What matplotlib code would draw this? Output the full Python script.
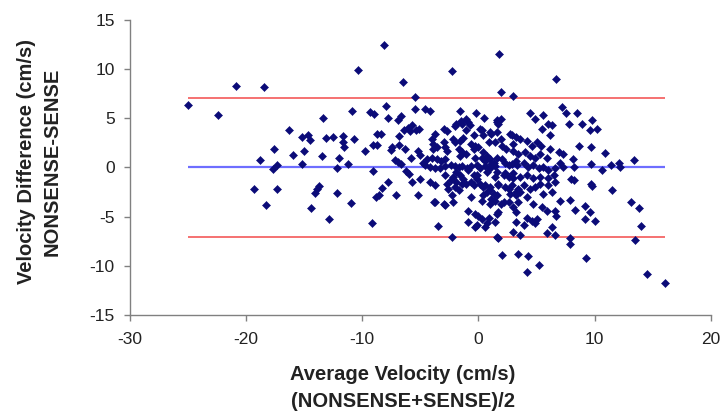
import numpy as np
import matplotlib
matplotlib.use('Agg')
import matplotlib.pyplot as plt

plt.rcParams['font.family'] = ['Liberation Sans', 'DejaVu Sans']
plt.rcParams['axes.unicode_minus'] = False

# (average velocity, difference) pairs, grouped by region
left_pts = [
    (-20.9, 8.3), (-18.5, 8.2), (-25.0, 6.4), (-22.4, 5.3), (-13.4, 5.0), (-16.3, 3.8),
    (-15.2, 3.1), (-14.7, 3.3), (-14.5, 2.8), (-13.1, 3.0), (-12.5, 3.1), (-17.6, 1.9),
    (-16.0, 1.3), (-15.0, 1.7), (-13.5, 1.2), (-18.8, 0.8), (-15.2, 0.4), (-17.7, -0.2),
    (-17.3, 0.2), (-12.2, -0.1), (-19.3, -2.2), (-17.3, -2.2), (-14.1, -2.6), (-13.9, -2.2),
    (-13.7, -1.9), (-12.2, -2.6), (-18.3, -3.8), (-14.4, -4.1), (-12.9, -5.2),
]
midleft_pts = [
    (-10.4, 9.9), (-8.1, 12.5), (-2.3, 9.8), (-6.5, 8.7), (-5.5, 7.2), (-10.9, 5.7),
    (-9.3, 5.6), (-9.0, 5.4), (-8.0, 6.3), (-7.8, 5.0), (-6.9, 4.8), (-6.7, 5.2),
    (-5.5, 5.9), (-4.6, 5.9), (-4.2, 5.7), (-1.6, 5.7), (-0.2, 5.5),
    (-11.7, 3.2), (-11.7, 2.6), (-11.6, 2.1), (-10.7, 2.9), (-9.8, 1.7), (-12.0, 1.0),
    (-11.2, 0.3), (-9.1, 2.3), (-8.7, 2.3), (-8.7, 3.4), (-8.4, 3.4), (-7.5, 1.8),
    (-7.4, 2.1), (-6.8, 2.3), (-6.3, 1.9), (-6.4, 3.8), (-6.1, 4.0), (-5.9, 3.7),
    (-5.7, 4.3), (-5.4, 3.8), (-5.1, 3.9), (-7.2, 0.8), (-6.9, 0.6), (-6.7, 0.4),
    (-5.8, 1.0), (-5.2, 1.7), (-5.0, 1.3), (-4.8, 0.5), (-9.1, -0.4), (-6.2, -0.4),
    (-6.0, -0.7), (-5.7, -1.5), (-5.0, -1.2), (-7.8, -1.5), (-8.3, -2.1), (-8.8, -3.0),
    (-8.6, -2.8), (-7.1, -2.8), (-5.2, -2.8), (-11.0, -3.6), (-9.2, -5.7), (-3.8, -3.5),
    (-2.9, -3.8), (-3.5, -6.0), (-2.3, -7.1), (-0.9, -4.4), (-0.9, -5.6), (-0.3, -6.1),
    (-6.8, 3.2),
]
core_pts = [
    (0.5, 5.0), (1.6, 4.8), (-1.1, 4.9), (-1.5, 4.7), (-1.9, 4.4), (-2.0, 4.2), (-0.9, 4.6),
    (-0.7, 4.3), (-3.0, 3.9), (-2.7, 3.7), (-3.7, 3.4), (-0.4, 3.3), (0.1, 3.9), (0.4, 3.3),
    (1.0, 3.6), (-2.2, 2.9), (-2.0, 2.6), (-1.6, 2.7), (-1.3, 3.0), (-4.0, 2.9), (-3.9, 2.4),
    (-3.6, 2.1), (-3.9, 1.9), (-3.0, 2.6), (-2.9, 2.1), (-2.7, 1.7), (-0.6, 2.4), (-0.3, 2.2),
    (-0.4, 1.9), (-1.7, 1.9), (-1.4, 1.6), (-1.6, 1.2), (0.4, 1.6), (0.7, 1.2), (0.3, 1.0),
    (1.0, 0.9), (1.3, 0.5), (1.6, 1.0), (-4.4, 0.9), (-4.0, 1.0), (-3.6, 0.9), (-3.2, 0.7),
    (-2.9, 0.9), (-4.6, 0.2), (-4.2, 0.0), (-3.7, -0.1), (-3.3, -0.1), (-2.9, 0.1),
    (-2.4, 0.2), (-2.0, 0.1), (-1.7, 0.0), (-1.4, 0.1), (-1.0, -0.1), (-0.6, 0.1),
    (-0.1, 0.2), (0.1, -0.1), (0.6, 0.1), (1.0, -0.1), (1.4, 0.1), (-1.9, -0.5),
    (-1.6, -0.8), (-2.2, -1.0), (-1.3, -1.2), (-2.4, -1.3), (-1.9, -1.5), (-1.4, -1.7),
    (-2.0, -2.0), (-1.7, -2.3), (-4.2, -1.5), (-3.7, -1.8), (-2.9, -0.8), (-2.7, -1.7),
    (-2.6, -2.2), (-0.4, -0.8), (-0.1, -1.2), (-0.6, -1.5), (0.1, -1.7), (0.6, -1.8),
    (1.0, -2.0), (0.7, -2.5), (1.3, -2.7), (1.6, -2.8), (0.4, -2.8), (1.4, -3.4),
    (1.0, -3.7), (-2.3, -2.8), (-2.2, -3.5), (-3.0, -3.7), (-3.7, -3.5), (-0.3, -4.7),
    (0.0, -4.9), (0.3, -5.2), (0.7, -5.7), (0.6, -6.1), (1.6, -7.1),
    (1.9, 4.9), (1.6, 4.6), (-1.4, 4.4), (-1.1, 3.8), (0.3, 3.8), (1.1, 3.4), (0.0, 2.1),
    (0.9, 2.6), (2.0, 2.2), (2.9, 3.3), (3.0, 2.4), (-1.1, 1.4), (-0.3, 1.0), (0.6, 0.7),
    (1.1, 0.4), (2.0, 0.9), (2.6, 0.2), (3.2, 0.7), (-0.9, -0.3), (-0.1, -0.8), (0.7, -0.5),
    (1.4, -1.0), (2.3, -0.6), (3.0, -1.1), (-1.1, -1.7), (-0.4, -1.8), (0.4, -2.0),
    (1.0, -2.3), (1.7, -1.8), (2.6, -2.2), (3.2, -2.5), (-0.6, -3.0), (0.3, -3.4),
    (1.1, -3.2), (1.9, -3.7), (2.6, -3.5), (3.0, -4.0), (0.9, -5.1), (1.7, -4.5),
    (-0.1, -5.9),
]
midright_pts = [
    (3.0, 7.3), (7.2, 6.1), (7.5, 5.5), (1.7, 4.4), (4.4, 5.5), (4.9, 4.9), (5.6, 5.3),
    (6.0, 4.4), (6.3, 4.3), (5.5, 3.9), (6.2, 3.3), (2.7, 3.4), (3.2, 3.1), (3.6, 2.9),
    (1.6, 3.6), (1.9, 2.9), (1.4, 2.6), (4.2, 2.7), (4.6, 2.2), (5.0, 2.6), (5.4, 2.2),
    (7.0, 0.5), (2.4, 1.9), (3.0, 1.7), (3.4, 1.4), (4.0, 1.6), (4.4, 1.2), (4.9, 1.0),
    (5.3, 1.4), (5.9, 1.0), (2.3, 0.5), (2.9, 0.4), (3.3, 0.2), (3.9, 0.5), (4.3, 0.0),
    (4.7, 0.2), (5.2, -0.1), (5.6, 0.0), (6.0, -0.3), (6.6, -0.1), (7.3, 0.0),
    (1.6, -0.5), (2.2, -0.8), (2.6, -1.0), (3.0, -0.6), (3.6, -1.0), (4.2, -0.8),
    (4.7, -1.1), (5.3, -1.0), (6.0, -1.1), (6.5, -0.8), (1.7, -1.7), (2.3, -2.0),
    (2.9, -1.8), (3.4, -2.2), (3.9, -1.8), (4.4, -2.2), (4.9, -2.0), (5.3, -1.7),
    (6.0, -1.8), (6.6, -1.5), (2.7, -2.7), (3.2, -2.8), (3.6, -2.5), (4.2, -3.0),
    (5.6, -2.7), (6.3, -2.5), (2.2, -3.5), (3.4, -3.5), (4.7, -3.7), (5.5, -4.0),
    (5.9, -4.4), (6.6, -4.4), (6.7, -4.9), (1.6, -4.7), (1.4, -5.5), (3.2, -4.5),
    (4.2, -5.1), (4.6, -5.4), (5.0, -5.2), (4.9, -5.7), (3.2, -5.5), (3.9, -5.9),
    (3.0, -6.6), (3.6, -6.9), (5.9, -6.7), (6.3, -6.1), (6.6, -6.9), (1.7, -7.2),
    (6.2, 1.9), (6.9, 1.6), (7.3, 1.4),
]
right_pts = [
    (1.8, 11.5), (6.7, 9.0), (1.9, 7.7), (8.5, 5.5), (7.8, 4.4), (8.9, 4.4), (9.6, 3.8),
    (10.2, 3.9), (8.7, 2.2), (9.7, 2.1), (8.1, 0.9), (8.2, 0.0), (9.7, 0.4), (8.2, -1.3),
    (8.0, -1.2), (7.0, -3.4), (7.9, -3.3), (9.2, -3.9), (8.3, -4.3), (9.2, -5.2),
    (10.0, -5.4), (7.9, -7.2), (7.9, -7.8), (9.3, -9.2), (2.0, -8.9), (3.4, -8.8),
    (4.3, -9.0), (5.2, -9.9), (4.2, -10.6), (9.8, 4.8), (10.9, 1.5), (10.6, -0.3),
    (11.4, 0.2), (12.1, 0.5), (12.2, 0.0), (13.4, 0.8), (9.7, -1.7), (9.8, -1.9),
    (11.5, -2.3), (9.6, -4.5), (13.1, -3.5), (13.8, -4.1), (14.0, -6.0), (13.5, -7.4),
    (14.5, -10.8), (16.1, -11.8),
]

mean_diff = 0.0
upper_limit = 7.1
lower_limit = -7.1

xticks = [-30, -20, -10, 0, 10, 20]
yticks = [-15, -10, -5, 0, 5, 10, 15]

pts = np.array(left_pts + midleft_pts + core_pts + midright_pts + right_pts)
avg = pts[:, 0]
diff = pts[:, 1]

fig = plt.figure(figsize=(7.26, 4.16), dpi=100)
ax = fig.add_axes([0.179, 0.243, 0.800, 0.709])

# limit and mean lines span the data range like the original
x0, x1 = avg.min(), avg.max()
ax.hlines([upper_limit, lower_limit], x0, x1, color='#f24a4a', lw=1.1, zorder=2)
ax.hlines(mean_diff, x0, x1, color='#6e6eff', lw=1.6, zorder=2)
ax.plot(avg, diff, linestyle='none', marker='D', ms=3.7, color='#0b0b78',
        markeredgewidth=0.4, zorder=3)

ax.set_xlim(-30, 20)
ax.set_ylim(-15, 15)
ax.set_xticks(xticks)
ax.set_yticks(yticks)

for s in ['top', 'right']:
    ax.spines[s].set_visible(False)
for s in ['left', 'bottom']:
    ax.spines[s].set_color('#808080')
    ax.spines[s].set_linewidth(1.0)

ax.tick_params(axis='both', colors='#808080', length=4, width=1.0,
               labelsize=12.5, labelcolor='#222222')
ax.tick_params(axis='y', pad=7)
ax.tick_params(axis='x', pad=8)

ax.set_xlabel('Average Velocity (cm/s)\n(NONSENSE+SENSE)/2', fontsize=14.5,
              fontweight='bold', color='#222222', linespacing=1.55, labelpad=13)
ax.set_ylabel('Velocity Difference (cm/s)\nNONSENSE-SENSE', fontsize=14.5,
              fontweight='bold', color='#222222', linespacing=1.45, labelpad=20)
# the titles sit slightly off the plot centre in the original
ax.xaxis.label.set_x(0.47)
ax.yaxis.label.set_y(0.52)

fig.savefig('out.png', dpi=100)
